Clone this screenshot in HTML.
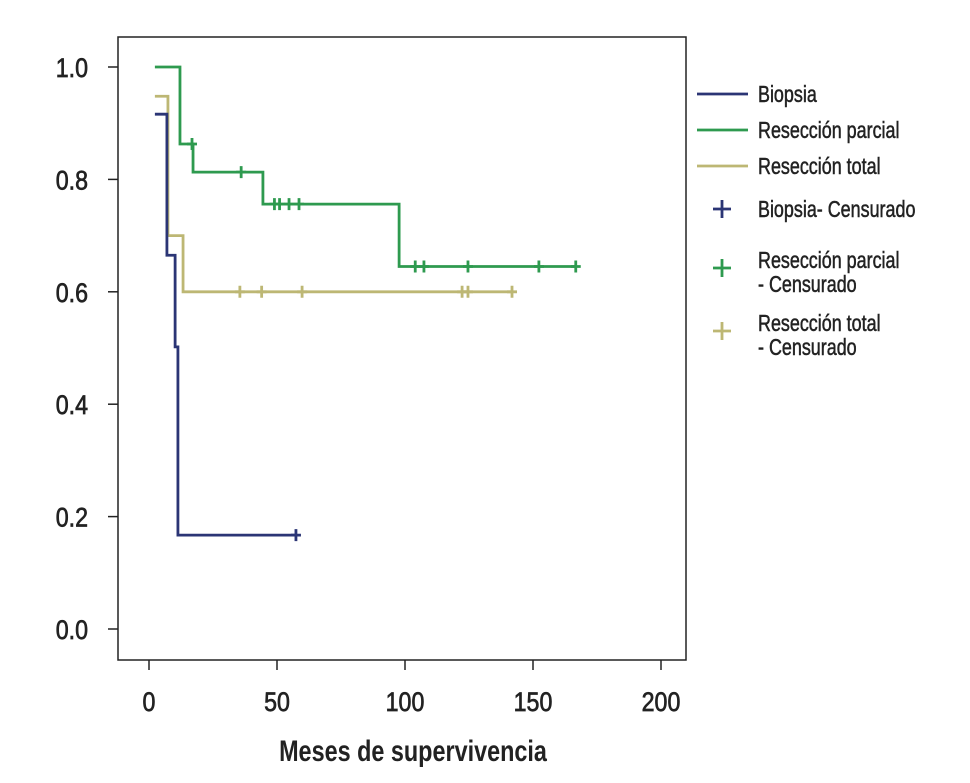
<!DOCTYPE html>
<html><head><meta charset="utf-8"><style>
html,body{margin:0;padding:0;background:#fff;}
svg{display:block;font-family:"Liberation Sans",sans-serif;}
</style></head><body>
<svg id="c" width="970" height="783">
<rect x="118" y="37" width="568" height="623" fill="none" stroke="#222" stroke-width="1.5"/>
<g id="axes"></g><g id="series"></g><g id="legend"></g>
</svg>
<script>
const xTicks=[0,50,100,150,200];
const yTicks=[0.0,0.2,0.4,0.6,0.8,1.0];
const yTickLabels=["0.0","0.2","0.4","0.6","0.8","1.0"];
const biopsiaTimes=[2.3,7,10.2,11.3,57.4];
const biopsiaSurv=[0.916,0.665,0.502,0.167,0.167];
const biopsiaCens=[57.4];
const parcialTimes=[2.3,12.1,17.2,44.5,97.7,166.7];
const parcialSurv=[1.0,0.863,0.813,0.756,0.645,0.645];
const parcialCens=[16.8,36,49,51,54.7,58.6,104,107.4,124.6,152.3,166.7];
const totalTimes=[2.3,7.4,13.3,141.8];
const totalSurv=[0.948,0.70,0.60,0.60];
const totalCens=[35.5,44,59.8,122.3,124.6,141.8];
const NS="http://www.w3.org/2000/svg";
const X=t=>149+t*2.56;
const Y=v=>629-v*562;
function mk(tag,at,parent){const e=document.createElementNS(NS,tag);for(const k in at)e.setAttribute(k,at[k]);parent.appendChild(e);return e;}
const axes=document.getElementById('axes');
xTicks.forEach(t=>{
 const l=mk('line',{x1:X(t),x2:X(t),y1:660,y2:670,stroke:'#222','stroke-width':1.5},axes);
 
 
 const tx=mk('text',{x:X(t),y:711,'text-anchor':'middle','font-size':27,fill:'#222',stroke:'#222','stroke-width':0.7,transform:`translate(${X(t)},0) scale(0.86,1) translate(${-X(t)},0)`},axes);
 tx.textContent=String(t);
 
 
});
yTicks.forEach((v,i)=>{
 const l=mk('line',{x1:108,x2:118,y1:Y(v),y2:Y(v),stroke:'#222','stroke-width':1.5},axes);
 
 
 const tx=mk('text',{x:88,y:Y(v)+10,'text-anchor':'end','font-size':27,fill:'#222',stroke:'#222','stroke-width':0.7,transform:`translate(88,0) scale(0.86,1) translate(-88,0)`},axes);
 tx.textContent=yTickLabels[i];
 
 
});
const title=mk('text',{x:413,y:761,'text-anchor':'middle','font-size':30,'font-weight':'bold',fill:'#222',transform:'translate(413,0) scale(0.78,1) translate(-413,0)'},axes);
title.textContent="Meses de supervivencia";


const series=document.getElementById('series');
function drawSeries(times,surv,cens,color,name){
 let d=`M${X(times[0])},${Y(surv[0])}`;
 for(let i=1;i<times.length;i++){d+=` H${X(times[i])} V${Y(surv[i])}`;}
 const p=mk('path',{d:d,fill:'none',stroke:color,'stroke-width':2.8},series);
 
 
 cens.forEach(t=>{
  let v=surv[0];for(let i=0;i<times.length;i++){if(times[i]<=t)v=surv[i];}
  const c=mk('path',{d:`M${X(t)},${Y(v)-6} V${Y(v)+6} M${X(t)-5},${Y(v)} H${X(t)+5}`,stroke:color,'stroke-width':2.8,fill:'none'},series);
  
  
 });
}
drawSeries(totalTimes,totalSurv,totalCens,'#bdb774','reseccion-total');
drawSeries(parcialTimes,parcialSurv,parcialCens,'#2e9a4f','reseccion-parcial');
drawSeries(biopsiaTimes,biopsiaSurv,biopsiaCens,'#2b3575','biopsia');
const lg=document.getElementById('legend');
const entries=[
 {type:'line',c:'#2b3575',y:94,t:['Biopsia'],n:'legend-biopsia'},
 {type:'line',c:'#2e9a4f',y:130,t:['Resección parcial'],n:'legend-reseccion-parcial'},
 {type:'line',c:'#bdb774',y:166,t:['Resección total'],n:'legend-reseccion-total'},
 {type:'plus',c:'#2b3575',y:209,t:['Biopsia- Censurado'],n:'legend-biopsia-censurado'},
 {type:'plus',c:'#2e9a4f',y:268,t:['Resección parcial','- Censurado'],n:'legend-parcial-censurado'},
 {type:'plus',c:'#bdb774',y:331,t:['Resección total','- Censurado'],n:'legend-total-censurado'}];
entries.forEach(e=>{
 const g=mk('g',{},lg);
 
 
 if(e.type==='line') mk('line',{x1:697,x2:748,y1:e.y,y2:e.y,stroke:e.c,'stroke-width':2.8},g);
 else mk('path',{d:`M722,${e.y-9} V${e.y+9} M713,${e.y} H731`,stroke:e.c,'stroke-width':2.8,fill:'none'},g);
 const y0=e.t.length>1?e.y-8:e.y;
 e.t.forEach((s,i)=>{
  const tx=mk('text',{x:758,y:y0+8+i*24,'font-size':23,fill:'#222',stroke:'#222','stroke-width':0.5,transform:'translate(758,0) scale(0.78,1) translate(-758,0)'},g);
  tx.textContent=s;
 });
});
</script>
</body></html>
